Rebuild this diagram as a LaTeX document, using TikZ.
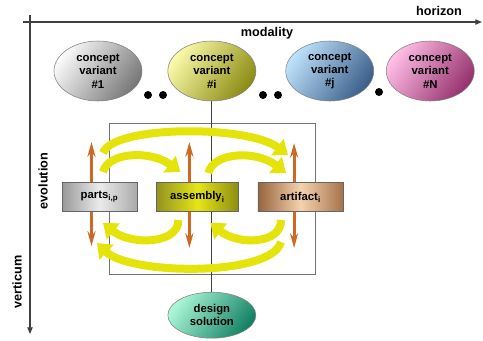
\documentclass[tikz,border=0pt]{standalone}
\usepackage{fontspec}
\setmainfont{Liberation Sans}
\usepackage{xcolor}
\usetikzlibrary{shapes,arrows.meta,positioning,calc,backgrounds}
\definecolor{flowyellow}{RGB}{228,228,10}
\definecolor{linkorange}{RGB}{205,105,35}
\definecolor{greyhi}{RGB}{250,250,250}
\definecolor{greylo}{RGB}{120,120,120}
\definecolor{oliveh}{RGB}{250,250,170}
\definecolor{olivel}{RGB}{140,140,20}
\definecolor{bluehi}{RGB}{190,225,250}
\definecolor{bluelo}{RGB}{60,95,140}
\definecolor{pinkhi}{RGB}{255,190,230}
\definecolor{pinklo}{RGB}{150,50,110}
\definecolor{tealhi}{RGB}{170,245,215}
\definecolor{teallo}{RGB}{20,130,100}

\begin{document}
\begin{tikzpicture}[
  x=0.75pt, y=-0.75pt,
  concept/.style={draw=black!50, ellipse, minimum width=66pt, minimum height=45pt, inner sep=0pt, align=center, font=\bfseries\fontsize{8.5}{10}\selectfont},
  tint/.style 2 args={top color=#1, bottom color=#2, shading angle=55},
  stage/.style={draw=black!60, rectangle, minimum height=22pt, inner sep=2pt, font=\bfseries\fontsize{8.5}{10}\selectfont},
  flow/.style={draw=flowyellow, line width=6pt, -{Triangle[length=10pt,width=15pt]}},
  link/.style={draw=linkorange, line width=2.2pt, {Stealth[length=11pt,width=6pt]}-{Stealth[length=11pt,width=6pt]}},
  axis/.style={draw=black!75, line width=0.8pt, -{Triangle[length=5pt,width=4pt]}},
  label/.style={font=\bfseries\fontsize{9.5}{11}\selectfont},
  dot/.style={circle, fill=black, minimum size=6pt, inner sep=0pt}
]
\useasboundingbox (0,0) rectangle (483,340);

% Axes
\coordinate (hstart) at (23,22);
\coordinate (hend) at (482,22);
\coordinate (vstart) at (30,15);
\coordinate (vend) at (30,334);
\draw[axis] (hstart) -- (hend);
\draw[axis] (vstart) -- (vend);
\node[label] (horizon) at (439,11) {horizon};
\node[label] (modality) at (267,33) {modality};
\node[label, rotate=90] (evolution) at (43,181) {evolution};
\node[label, rotate=90] (verticum) at (17,282) {verticum};

% Concept variants
\node[concept, tint={greyhi}{greylo}] (cv1) at (98,71) {concept\\variant\\\#1};
\node[concept, tint={oliveh}{olivel}, right=19pt of cv1] (cvi) {concept\\variant\\\#i};
\node[concept, tint={bluehi}{bluelo}, right=22pt of cvi] (cvj) {concept\\variant\\\#j};
\node[concept, tint={pinkhi}{pinklo}, right=9pt of cvj] (cvn) {concept\\variant\\\#N};

\node[dot] (d1) at (148,95) {};
\node[dot] (d2) at (163,95) {};
\node[dot] (d3) at (263,95) {};
\node[dot] (d4) at (278,95) {};
\node[dot] (d5) at (379,92) {};

% Stages
\node[stage, minimum width=56pt, left color=black!40, right color=black!33, middle color=black!8] (parts) at (99.5,197) {parts\textsubscript{i,p}};
\node[stage, minimum width=62pt, left color=olivel!95, right color=olivel, middle color=flowyellow!95!white, right=14pt of parts] (assembly) {assembly\textsubscript{i}};
\node[stage, minimum width=64pt, left color={rgb,255:red,150;green,100;blue,60}, right color={rgb,255:red,165;green,115;blue,75}, middle color={rgb,255:red,245;green,210;blue,175}, right=14pt of assembly] (artifact) {artifact\textsubscript{i}};

% Design solution
\node[concept, minimum height=34.5pt, tint={tealhi}{teallo}, below=143pt of cvi] (solution) {design\\solution};

\begin{scope}[on background layer]
  \draw[black!55, line width=0.6pt] (109,123) rectangle (315,274);
  \draw[black!75, line width=0.6pt] (cvi.south) -- (solution.north);
  \draw[link] ($(parts.center)+(-8,-55)$) -- ($(parts.center)+(-8,49)$);
  \draw[link] ($(assembly.center)+(-8,-55)$) -- ($(assembly.center)+(-8,51)$);
  \draw[link] ($(artifact.center)+(-6.5,-54)$) -- ($(artifact.center)+(-6.5,51)$);
\end{scope}

% Flows
\draw[flow] ($(parts.center)+(3.5,-44)$) .. controls +(10,-28) and +(-40,-30) .. ($(artifact.center)+(-12.5,-42)$);
\draw[flow] ($(parts.center)+(3.5,-25)$) .. controls +(5,-20) and +(-30,-22) .. ($(assembly.center)+(-17,-25)$);
\draw[flow] ($(assembly.center)+(11,-24)$) .. controls +(5,-21) and +(-30,-23) .. ($(artifact.center)+(-14.5,-24)$);
\draw[flow] ($(assembly.center)+(-19,23)$) .. controls +(0,25) and +(27,22) .. ($(parts.center)+(3.5,26)$);
\draw[flow] ($(artifact.center)+(-19.5,23)$) .. controls +(0,25) and +(27,22) .. ($(assembly.center)+(13,26)$);
\draw[flow] ($(artifact.center)+(-19.5,45)$) .. controls +(-10,35) and +(33,32) .. ($(parts.center)+(-2.5,46)$);

\end{tikzpicture}
\end{document}
